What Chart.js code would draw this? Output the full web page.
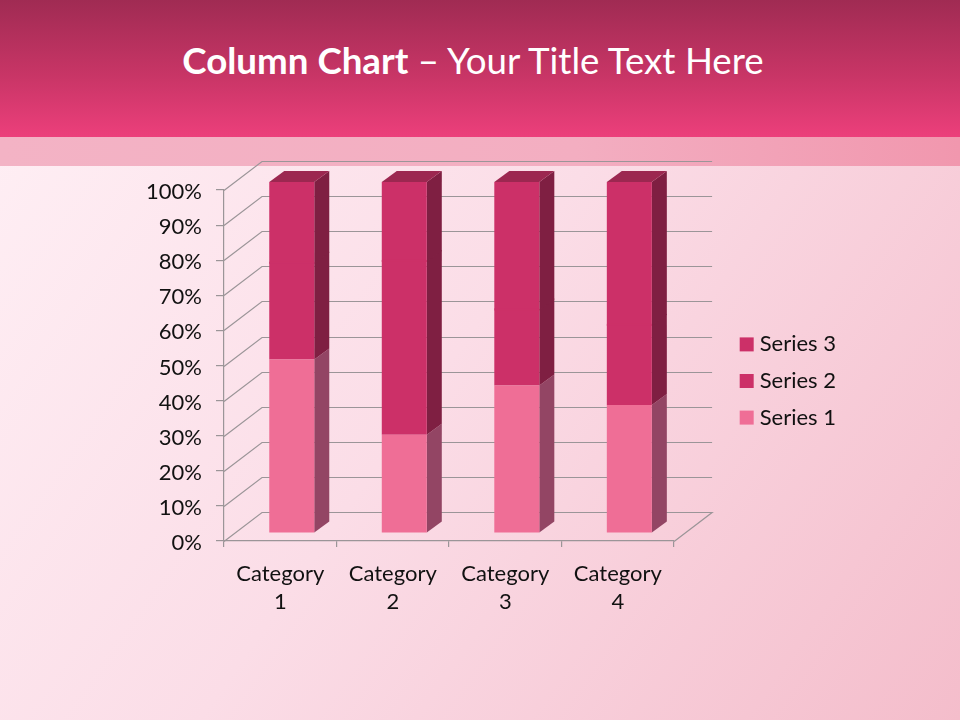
<!DOCTYPE html>
<html>
<head>
<meta charset="utf-8">
<title>Column Chart</title>
<script src="https://cdn.jsdelivr.net/npm/chart.js@4/dist/chart.umd.min.js"></script>
<style>
html, body { margin: 0; padding: 0; }
body { width: 960px; height: 720px; overflow: hidden; position: relative;
    background: linear-gradient(125deg, #fff1f6 0%, #fbdde7 48%, #f4bdcb 100%); }
#head { position: absolute; left: 0; top: 0; width: 960px; height: 137px;
    background: linear-gradient(180deg, #a02b53 0%, #c83566 55%, #ec3f7b 100%); }
#band { position: absolute; left: 0; top: 137px; width: 960px; height: 29px;
    background: linear-gradient(90deg, #f3b3c5 0%, #f3aec1 60%, #f197ae 100%); }
#title { position: absolute; left: -7px; top: 36px; width: 960px; margin: 0; text-align: center;
    color: #fff; font: 400 36.7px/48px Lato, sans-serif; }
#title b { font-weight: 700; }
canvas { position: absolute; left: 0; top: 0; }
</style>
</head>
<body>
<div id="head"></div>
<div id="band"></div>
<h1 id="title"><b>Column Chart</b> – Your Title Text Here</h1>
<canvas id="chart" width="960" height="720"></canvas>
<script>
const categories = [["Category", "1"], ["Category", "2"], ["Category", "3"], ["Category", "4"]];
const series1 = [49.4, 28, 42, 36.5];
const series2 = [27.6, 49.5, 21.7, 22.8];
const series3 = [23, 22.5, 36.3, 40.7];

const front1 = "#ef6e96", front2 = "#cc3068";
const side1 = "#934564", side2 = "#7f1f42", topFace = "#9c2750";
const lineColor = "#9b9598";

// how far the back wall sits from the front plane, and the bars inside that
const wall = { dx: 38, dy: -29 };
const barShift = { dx: 11.5, dy: -8 };
const barDepth = { dx: 15, dy: -11 };

function poly(ctx, pts, color) {
    ctx.fillStyle = color;
    ctx.beginPath();
    pts.forEach((p, i) => i ? ctx.lineTo(p[0], p[1]) : ctx.moveTo(p[0], p[1]));
    ctx.closePath();
    ctx.fill();
}

const box3d = {
    id: "box3d",
    beforeDatasetsDraw(chart) {
        const ctx = chart.ctx, { x, y } = chart.scales;
        // back wall lines and the diagonals going back to them
        ctx.save();
        ctx.strokeStyle = lineColor;
        ctx.lineWidth = 1.2;
        y.ticks.forEach(t => {
            const py = Math.round(y.getPixelForValue(t.value)) + 0.5;
            ctx.beginPath();
            ctx.moveTo(x.left, py);
            ctx.lineTo(x.left + wall.dx, py + wall.dy);
            ctx.lineTo(x.right + wall.dx, py + wall.dy);
            if (t.value === 0) ctx.lineTo(x.right, py);
            ctx.stroke();
        });
        ctx.restore();
        // side faces, bars go over them
        ctx.save();
        ctx.translate(barShift.dx, barShift.dy);
        chart.data.datasets.forEach((ds, i) => {
            chart.getDatasetMeta(i).data.forEach(bar => {
                const r = bar.x + bar.width / 2;
                // series 3 runs a bit past its base so no seam shows on series 2
                const low = i === 2 ? bar.base + 1 : bar.base;
                poly(ctx, [[r, bar.y], [r + barDepth.dx, bar.y + barDepth.dy],
                    [r + barDepth.dx, low + barDepth.dy], [r, low]], i === 0 ? side1 : side2);
                if (i === chart.data.datasets.length - 1) {
                    const l = bar.x - bar.width / 2;
                    poly(ctx, [[l, bar.y], [l + barDepth.dx, bar.y + barDepth.dy],
                        [r + barDepth.dx, bar.y + barDepth.dy], [r, bar.y]], topFace);
                }
            });
        });
        ctx.restore();
        ctx.save();
        ctx.translate(barShift.dx, barShift.dy);
    },
    afterDatasetsDraw(chart) {
        const ctx = chart.ctx;
        // series 2 and 3 share a colour, cover the hairline between them
        ctx.fillStyle = front2;
        chart.getDatasetMeta(2).data.forEach(bar => {
            ctx.fillRect(bar.x - bar.width / 2, bar.base - 1, bar.width, 2);
        });
        ctx.restore();
    }
};

const textFont = { family: "Lato, sans-serif", size: 22 };

new Chart(document.getElementById("chart"), {
    type: "bar",
    data: {
        labels: categories,
        datasets: [
            { label: "Series 1", data: series1, backgroundColor: front1 },
            { label: "Series 2", data: series2, backgroundColor: front2 },
            { label: "Series 3", data: series3, backgroundColor: front2 }
        ]
    },
    options: {
        responsive: false,
        animation: false,
        devicePixelRatio: 1,
        barPercentage: 0.8,
        categoryPercentage: 0.5,
        clip: false,
        layout: { padding: { left: 0, right: 114, top: 42, bottom: 0 } },
        plugins: {
            tooltip: { enabled: false },
            legend: {
                position: "right",
                reverse: true,
                labels: {
                    font: textFont,
                    color: "#111",
                    padding: 14.6,
                    boxWidth: 4,
                    boxHeight: 14,
                    usePointStyle: true,
                    pointStyle: "rect"
                }
            }
        },
        scales: {
            x: {
                stacked: true,
                afterFit(s) { s.height = 179; },
                grid: { offset: true, drawOnChartArea: false, color: lineColor, lineWidth: 1.2, tickLength: 6 },
                border: { color: lineColor, width: 1.2 },
                ticks: { font: { ...textFont, lineHeight: 1.27 }, color: "#111", padding: 13, maxRotation: 0, autoSkip: false }
            },
            y: {
                stacked: true,
                min: 0,
                max: 100,
                afterFit(s) { s.width = 224; },
                grid: { drawOnChartArea: false, color: lineColor, lineWidth: 1.2, tickLength: 8 },
                border: { color: lineColor, width: 1.2 },
                ticks: { stepSize: 10, font: textFont, color: "#111", padding: 14, labelOffset: 2, callback: v => v + "%" }
            },
            // empty axes, they only hold the plot in place next to the legend
            depth: {
                position: "right",
                afterFit(s) { s.width = 56; },
                grid: { display: false },
                border: { display: false },
                ticks: { display: false }
            },
            headroom: {
                position: "top",
                afterFit(s) { s.height = 148; },
                grid: { display: false },
                border: { display: false },
                ticks: { display: false }
            }
        }
    },
    plugins: [box3d]
});
</script>
</body>
</html>
